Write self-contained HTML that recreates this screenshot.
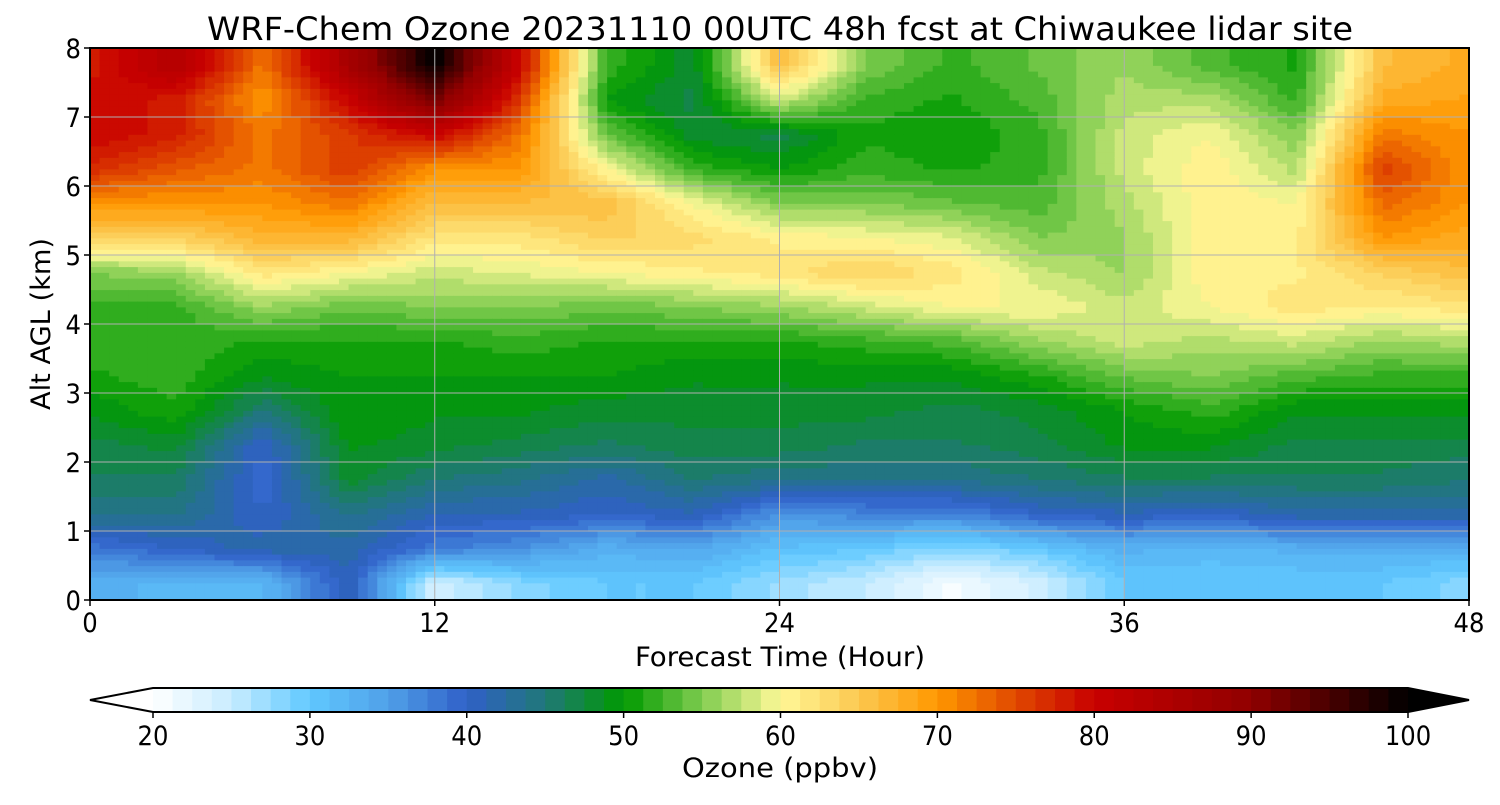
<!DOCTYPE html>
<html><head><meta charset="utf-8">
<style>
html,body{margin:0;padding:0;background:#fff;}
svg text{font-family:"DejaVu Sans Condensed","DejaVu Sans","Liberation Sans",sans-serif;fill:#000;}
</style></head>
<body>
<svg id="chart" width="1500" height="800" viewBox="0 0 1500 800" xmlns="http://www.w3.org/2000/svg">
<text x="780" y="40" font-size="32" text-anchor="middle" textLength="1146" lengthAdjust="spacingAndGlyphs">WRF-Chem Ozone  20231110 00UTC 48h fcst at Chiwaukee lidar site</text>
<g id="heat"></g>
<g id="grid"></g>
<rect x="90" y="48" width="1379" height="552" fill="none" stroke="#000" stroke-width="2"/>
<g id="axes"></g>
<text x="780" y="666" font-size="27" text-anchor="middle" textLength="290" lengthAdjust="spacingAndGlyphs">Forecast Time (Hour)</text>
<text transform="translate(50,324) rotate(-90)" font-size="27" text-anchor="middle" textLength="172" lengthAdjust="spacingAndGlyphs">Alt AGL (km)</text>
<g id="cbar"></g>
<text x="780" y="777" font-size="27" text-anchor="middle" textLength="196" lengthAdjust="spacingAndGlyphs">Ozone  (ppbv)</text>
</svg>
<script>
const times = [0,3,6,9,12,15,18,21,24,27,30,33,36,39,42,45,48];
const alts = [0.25,0.75,1.25,1.75,2.25,2.75,3.25,3.75,4.25,4.75,5.25,5.75,6.25,6.75,7.25,7.75];
const ozone = [
[33,38,44,46,47,49,51,52,52,55,64,70,77,80,80,78],
[32,40,44,46,48,51,52,52,52,56,64,70,74,78,78,84],
[32,42,40,39,40,45,49,51,56,62,67,70,72,72,70,72],
[41,42,44,48,49,50,50,51,54,60,67,72,76,76,80,86],
[24,38,41,45,48,49,50,51,55,58,62,66,70,80,92,100],
[28,36,41,44,47,49,50,52,55,59,62,66,70,72,76,80],
[30,33,40,42,46,48,50,51,54,60,64,66,60,54,50,52],
[30,34,41,45,47,48,49,51,55,61,63,60,52,48,47,48],
[27,31,36,44,47,48,49,51,56,62,61,55,50,47,58,66],
[25,30,37,44,46,48,49,52,58,64,60,55,52,51,52,55],
[21,28,37,44,46,47,49,53,60,62,59,54,51,50,51,52],
[24,30,40,45,47,48,51,56,60,58,55,53,52,52,53,54],
[30,33,41,46,49,50,54,58,58,56,56,57,58,58,57,56],
[30,32,40,46,49,52,55,57,60,61,61,61,61,60,57,53],
[30,33,42,46,47,49,53,58,62,61,61,60,57,55,52,51],
[30,33,42,46,47,49,52,56,61,64,70,73,76,72,68,66],
[28,33,42,45,47,49,52,57,62,66,68,70,70,70,69,68]
];
const xTicks = [0,12,24,36,48];
const yTicks = [0,1,2,3,4,5,6,7,8];
const cbTicks = [20,30,40,50,60,70,80,90,100];
const cmapStops = [20,25,30,35,40,45,50,55,60,65,70,75,80,90,100];
const cmapColors = ["#ffffff","#c8ecff","#60c8ff","#50a0e8","#3060c8","#207878","#009a00","#80cc50","#fff898","#fcc850","#ff9800","#e04800","#c80000","#900000","#000000"];

const NS="http://www.w3.org/2000/svg";
const X0=90,X1=1469,Y0=600,Y1=48;
const xs=t=>X0+(t-0)/(48-0)*(X1-X0);
const ys=z=>Y0-(z-0)/(8-0)*(Y0-Y1);
function hex(h){return [1,3,5].map(i=>parseInt(h.substr(i,2),16));}
function color(v){
  const q=Math.floor((v-20)/1.25)*1.25+20+0.625;
  const c=Math.max(20,Math.min(100,q));
  let i=0;while(i<cmapStops.length-2&&c>cmapStops[i+1])i++;
  const f=(c-cmapStops[i])/(cmapStops[i+1]-cmapStops[i]);
  const a=hex(cmapColors[i]),b=hex(cmapColors[i+1]);
  return "rgb("+a.map((x,k)=>Math.round(x+(b[k]-x)*f)).join(",")+")";
}
function mk(tag,attrs,parent){const e=document.createElementNS(NS,tag);for(const k in attrs)e.setAttribute(k,attrs[k]);parent.appendChild(e);return e;}
function idx(arr,v){
  if(v<=arr[0])return [0,0,0];
  if(v>=arr[arr.length-1]){const n=arr.length-1;return [n,n,0];}
  let i=0;while(arr[i+1]<v)i++;
  return [i,i+1,(v-arr[i])/(arr[i+1]-arr[i])];
}
function val(t,z){
  const [i0,i1,ft]=idx(times,t),[j0,j1,fz]=idx(alts,z);
  const a=ozone[i0][j0]*(1-fz)+ozone[i0][j1]*fz;
  const b=ozone[i1][j0]*(1-fz)+ozone[i1][j1]*fz;
  return a*(1-ft)+b*ft;
}
const heat=document.getElementById('heat');
const NX=144,NY=96;
for(let i=0;i<NX;i++){
  for(let j=0;j<NY;j++){
    const t0=48*i/NX,t1=48*(i+1)/NX,z0=8*j/NY,z1=8*(j+1)/NY;
    const r=mk('rect',{x:xs(t0),y:ys(z1),width:xs(t1)-xs(t0)+0.6,height:ys(z0)-ys(z1)+0.6,fill:color(val((t0+t1)/2,(z0+z1)/2))},heat);
    
    
  }
}
const grid=document.getElementById('grid'),axes=document.getElementById('axes');
xTicks.forEach(t=>{
  const l=mk('line',{x1:xs(t),x2:xs(t),y1:Y1,y2:Y0,stroke:'#b0b0b0','stroke-width':1},grid);
  
  const tk=mk('line',{x1:xs(t),x2:xs(t),y1:Y0,y2:Y0+6,stroke:'#000','stroke-width':1.5},axes);
  
  const tx=mk('text',{x:xs(t),y:Y0+32,'font-size':27,'text-anchor':'middle'},axes);tx.textContent=t;
  
});
yTicks.forEach(z=>{
  const l=mk('line',{x1:X0,x2:X1,y1:ys(z),y2:ys(z),stroke:'#b0b0b0','stroke-width':1},grid);
  
  const tk=mk('line',{x1:X0-6,x2:X0,y1:ys(z),y2:ys(z),stroke:'#000','stroke-width':1.5},axes);
  
  const tx=mk('text',{x:X0-9,y:ys(z)+10,'font-size':27,'text-anchor':'end'},axes);tx.textContent=z;
  
});
// colorbar
const cb=document.getElementById('cbar');
const C0=153,C1=1408,CT=688,CB=712;
const cx=v=>C0+(v-20)/80*(C1-C0);
const t1=mk('polygon',{points:`${C0},${CT} 90,${(CT+CB)/2} ${C0},${CB}`,fill:'#fff'},cb);

for(let v=20;v<100-0.01;v+=1.25){
  const r=mk('rect',{x:cx(v),y:CT,width:cx(v+1.25)-cx(v)+0.5,height:CB-CT,fill:color(v+0.1)},cb);
  
}
const t2=mk('polygon',{points:`${C1},${CT} 1469,${(CT+CB)/2} ${C1},${CB}`,fill:'#000'},cb);

const ol=mk('polygon',{points:`90,${(CT+CB)/2} ${C0},${CT} ${C1},${CT} 1469,${(CT+CB)/2} ${C1},${CB} ${C0},${CB}`,fill:'none',stroke:'#000','stroke-width':2},cb);

cbTicks.forEach(v=>{
  const tk=mk('line',{x1:cx(v),x2:cx(v),y1:CB,y2:CB+6,stroke:'#000','stroke-width':1.5},cb);
  
  const tx=mk('text',{x:cx(v),y:CB+33,'font-size':27,'text-anchor':'middle'},cb);tx.textContent=v;
  
});
</script>
</body></html>
